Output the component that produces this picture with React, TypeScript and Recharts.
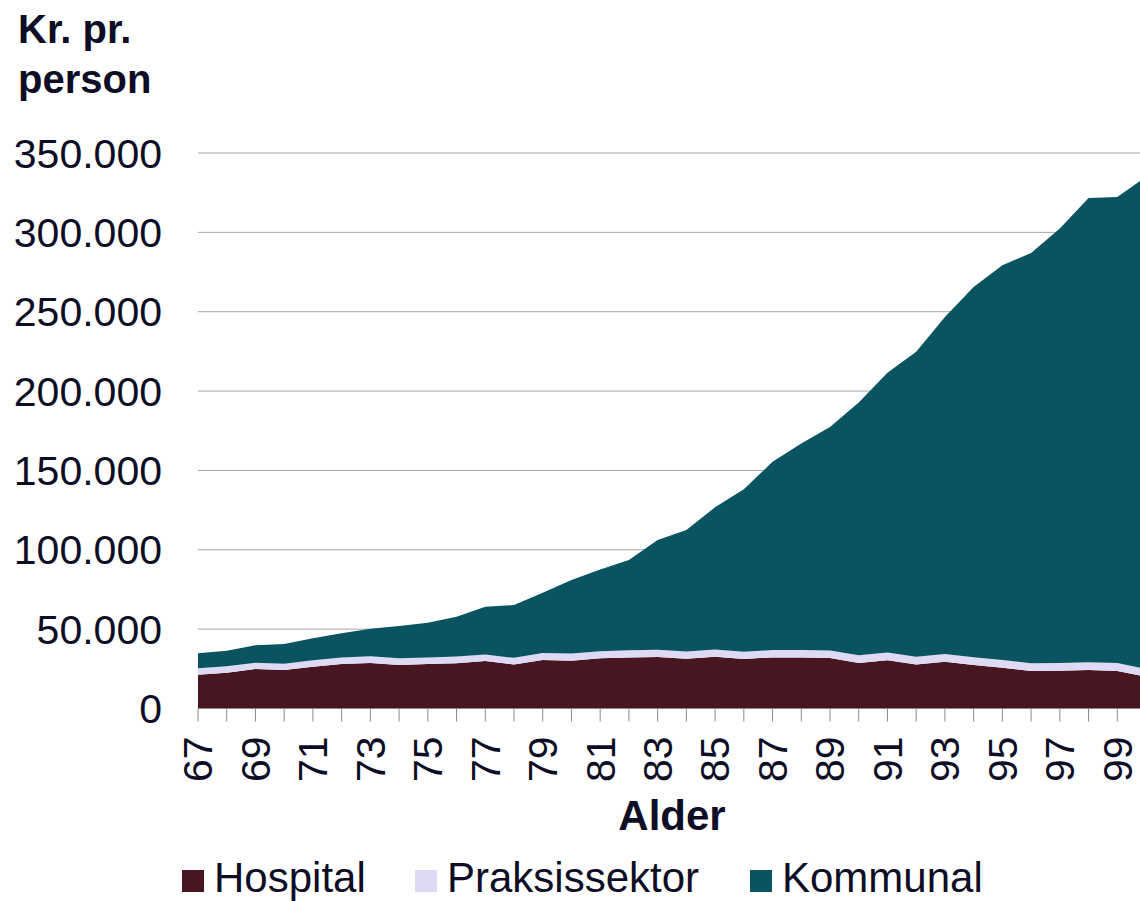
import React from "react";
import { AreaChart, Area, XAxis, YAxis, CartesianGrid, Label } from "recharts";

// alder 67..100
const ages = [
  "67", "68", "69", "70", "71", "72", "73", "74", "75", "76", "77", "78",
  "79", "80", "81", "82", "83", "84", "85", "86", "87", "88", "89", "90",
  "91", "92", "93", "94", "95", "96", "97", "98", "99", "100",
];

// kr. pr. person
const hospital = [
  21300, 22500, 24900, 24200, 26300, 28000, 28700, 27400, 28000, 28500, 29900, 27800,
  30500, 30100, 31600, 32200, 32400, 31400, 32600, 31200, 32200, 32200, 31800, 28700,
  30400, 27800, 29500, 27400, 25700, 23600, 23800, 24200, 23600, 20000,
];
const praksis = [
  4000, 4100, 3900, 4000, 4100, 4200, 4200, 4200, 4100, 4200, 4100, 4100,
  4400, 4500, 4500, 4500, 4600, 4500, 4600, 4600, 4600, 4700, 4700, 4800,
  4900, 4800, 4900, 4900, 4800, 4900, 4900, 5000, 5000, 5000,
];
const kommunal = [
  9500, 9800, 11000, 12400, 13800, 15200, 17300, 20400, 21900, 25100, 30100, 33300,
  38000, 46300, 51500, 56800, 69100, 76500, 89600, 102400, 118600, 130100, 140900, 159300,
  176200, 192100, 212300, 233300, 248800, 258500, 273800, 292400, 293700, 310000,
];

const yTicks = [0, 50000, 100000, 150000, 200000, 250000, 300000, 350000];

const series = [
  { key: "hospital", name: "Hospital", color: "#481621" },
  { key: "praksis", name: "Praksissektor", color: "#dedaf4" },
  { key: "kommunal", name: "Kommunal", color: "#0a5361" },
];

const data = ages.map((age, i) => ({
  age,
  hospital: hospital[i],
  praksis: praksis[i],
  kommunal: kommunal[i],
}));

const textColor = "#0d0d26";
const font = "'Liberation Sans', Arial, sans-serif";

const fmt = (v: number) =>
  v === 0 ? "0" : v.toString().replace(/\B(?=(\d{3})+(?!\d))/g, ".");

function AgeTick(props: any) {
  const { x, y, payload } = props;
  if (Number(payload.value) % 2 === 0) return null;
  return (
    <g transform={`translate(${x},${y})`}>
      <text
        transform="rotate(-90)"
        textAnchor="end"
        dy="0.35em"
        fontSize={41}
        fill={textColor}
        fontFamily={font}
      >
        {payload.value}
      </text>
    </g>
  );
}

export default function App() {
  return (
    <div
      style={{
        position: "absolute",
        left: 0,
        top: 0,
        width: 1140,
        height: 901,
        overflow: "hidden",
        background: "#fff",
        fontFamily: font,
        color: textColor,
      }}
    >
      <div
        style={{
          position: "absolute",
          left: 18,
          top: 4,
          fontSize: 40,
          lineHeight: "50px",
          fontWeight: "bold",
        }}
      >
        Kr. pr.
        <br />
        person
      </div>

      <AreaChart
        width={1150}
        height={901}
        data={data}
        margin={{ top: 153, right: 4, bottom: 0, left: 0 }}
      >
        <CartesianGrid horizontal vertical={false} stroke="#a6a6a6" />
        <XAxis
          dataKey="age"
          interval={0}
          height={192.5}
          tickSize={13}
          tickMargin={15}
          tick={<AgeTick />}
          axisLine={{ stroke: "#898989" }}
          tickLine={{ stroke: "#898989" }}
        >
          <Label
            value="Alder"
            position="insideTop"
            offset={92}
            fontSize={42}
            fontWeight="bold"
            fill={textColor}
            fontFamily={font}
          />
        </XAxis>
        <YAxis
          width={198}
          domain={[0, 350000]}
          ticks={yTicks}
          tickFormatter={fmt}
          axisLine={false}
          tickLine={false}
          tickSize={0}
          tickMargin={36}
          tick={{ fontSize: 41, fill: textColor, fontFamily: font }}
        />
        {series.map((s) => (
          <Area
            key={s.key}
            type="linear"
            dataKey={s.key}
            name={s.name}
            stackId="1"
            stroke="none"
            fill={s.color}
            fillOpacity={1}
            dot={false}
            activeDot={false}
            isAnimationActive={false}
          />
        ))}
      </AreaChart>

      {series.map((s, i) => {
        const left = [182, 415, 750][i];
        return (
          <div key={s.key}>
            <div
              style={{
                position: "absolute",
                left,
                top: 870,
                width: 22,
                height: 22,
                background: s.color,
              }}
            />
            <div
              style={{
                position: "absolute",
                left: left + 32,
                top: 857,
                fontSize: 42,
                lineHeight: "42px",
                whiteSpace: "nowrap",
              }}
            >
              {s.name}
            </div>
          </div>
        );
      })}
    </div>
  );
}
